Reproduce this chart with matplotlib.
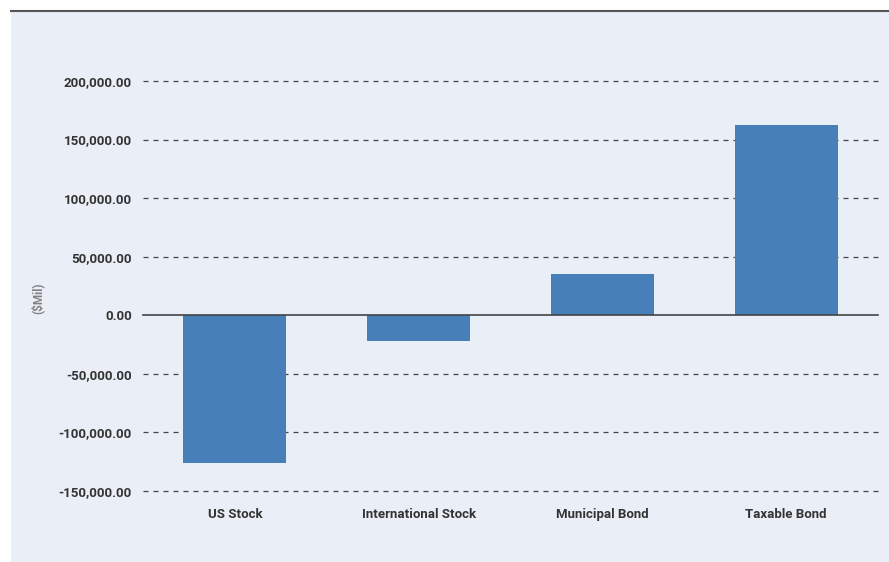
import matplotlib.pyplot as plt
from matplotlib.patches import Rectangle
from matplotlib.ticker import FuncFormatter

# data (estimated flows, $Mil)
categories = ["US Stock", "International Stock", "Municipal Bond", "Taxable Bond"]
flows = [-126500, -22200, 35000, 162400]
yticks = [-150000, -100000, -50000, 0, 50000, 100000, 150000, 200000]

panel = "#E9EEF7"
bar_color = "#4780B8"
text_color = "#333333"
font = ["Liberation Sans Narrow", "Roboto", "DejaVu Sans"]

fig = plt.figure(figsize=(8.89, 5.62), dpi=100)
fig.patch.set_facecolor("white")

# background panel and top rule
fig.patches.append(Rectangle((11 / 889, 0), 1 - 11 / 889, 1 - 11 / 562,
                             transform=fig.transFigure, facecolor=panel,
                             edgecolor="none", zorder=-5))
fig.add_artist(plt.Line2D([11 / 889, 1], [1 - 11 / 562, 1 - 11 / 562],
                          transform=fig.transFigure, color="#555555", lw=1.5))

ax = fig.add_axes([143 / 889, 1 - 491 / 562, 735 / 889, 410 / 562])
ax.set_zorder(2)
ax.set_facecolor("none")

x = range(len(categories))
ax.bar(x, flows, width=0.56, color=bar_color, zorder=3)

ax.set_xlim(-0.5, 3.5)
ax.set_ylim(-150000, 200000)
ax.set_yticks(yticks)
ax.yaxis.set_major_formatter(FuncFormatter(lambda v, p: f"{v:,.2f}"))
ax.set_xticks(list(x))
ax.set_xticklabels(categories)

for v in yticks:
    if v == 0:
        ax.axhline(0, color="#444444", lw=1.2, zorder=4, clip_on=False)
    else:
        ax.axhline(v, color="#444444", lw=0.9, ls=(0, (4, 4)), zorder=1,
                   clip_on=False)

for s in ax.spines.values():
    s.set_visible(False)
ax.tick_params(length=0)
ax.tick_params(axis="y", pad=8)
ax.tick_params(axis="x", pad=12)
for lab in ax.get_yticklabels() + ax.get_xticklabels():
    lab.set_family(font)
    lab.set_fontweight("bold")
    lab.set_fontsize(9.5)
    lab.set_color(text_color)

fig.text(37 / 889, 1 - 298 / 562, "($Mil)", rotation=90, ha="center", va="center",
         fontsize=8.5, fontweight="bold", color="#808080", family=font)

fig.savefig("out.png", dpi=100)
